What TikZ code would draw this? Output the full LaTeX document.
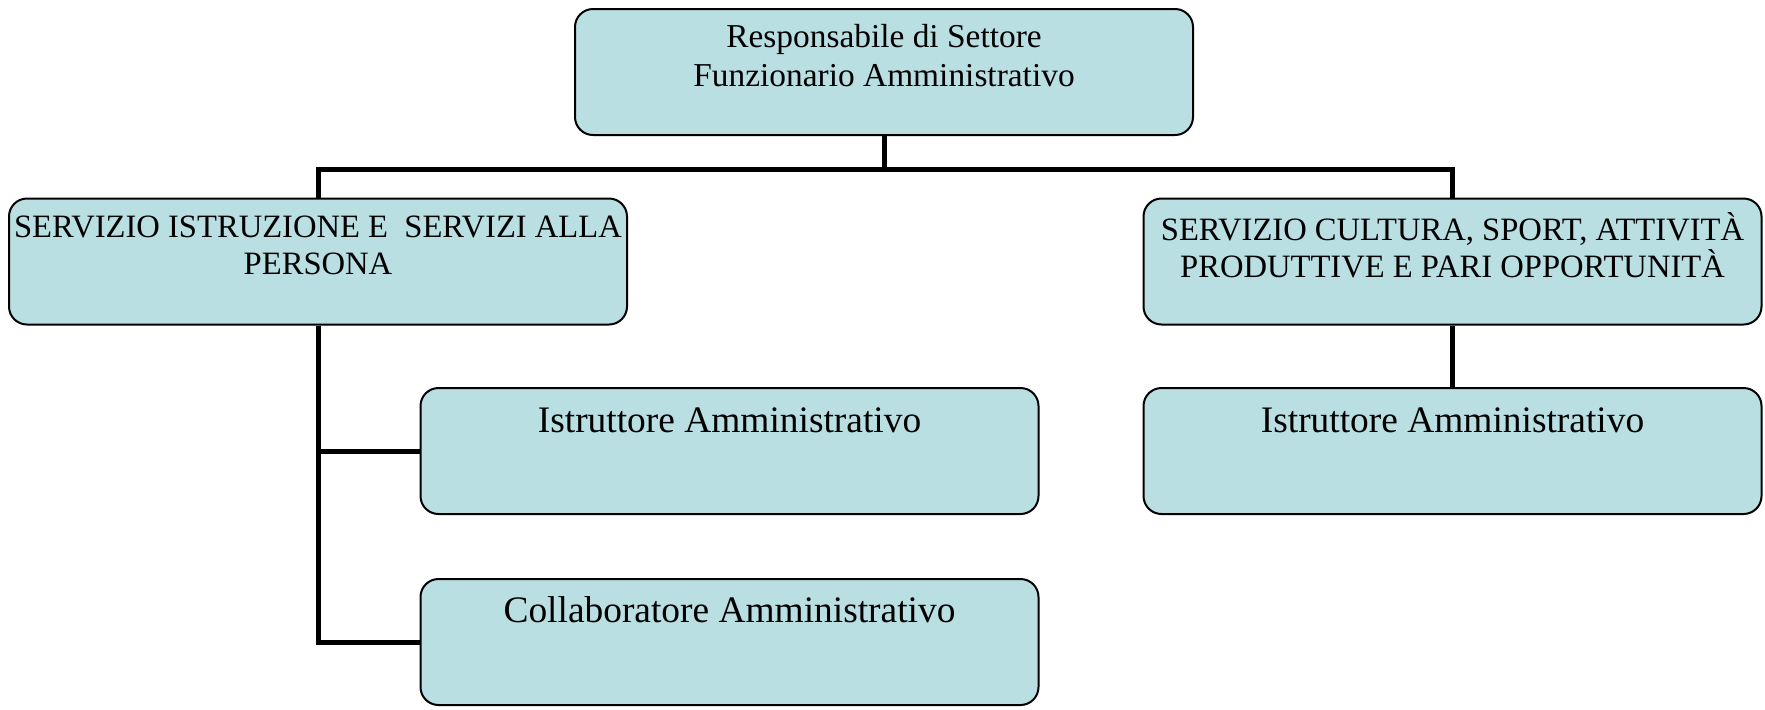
\documentclass[tikz,border=0pt]{standalone}
\usepackage{fontspec}
\setmainfont{Liberation Serif}
\usepackage{xcolor}
\usetikzlibrary{positioning}

\definecolor{boxblue}{HTML}{B9DFE3}

\begin{document}
\begin{tikzpicture}[x=0.5pt, y=-0.5pt,
    unitbox/.style={draw, line width=1pt, fill=boxblue, rounded corners=9pt,
        minimum width=309pt, minimum height=63pt, inner sep=0pt},
    boxtext/.style={align=center, inner sep=0pt},
    link/.style={line width=2.5pt}]
    \useasboundingbox (0,0) rectangle (1765,709);

    % Top: head of the sector
    \node[unitbox] (head) at (884,72) {};
    \node[boxtext, font=\fontsize{16.7}{19.5}\selectfont] (headtxt) at (884,56)
        {Responsabile di Settore\\Funzionario Amministrativo};

    % Services
    \node[unitbox] (istr) at (318,261.5) {};
    \node[boxtext, font=\fontsize{16.3}{18.5}\selectfont] (istrtxt) at (318,245)
        {SERVIZIO ISTRUZIONE E \ SERVIZI ALLA\\PERSONA};
    \node[unitbox] (cult) at (1452.5,261.5) {};
    \node[boxtext, font=\fontsize{16.3}{18.5}\selectfont] (culttxt) at (1452.5,245)
        {SERVIZIO CULTURA, SPORT, ATTIVITÀ\\PRODUTTIVE E PARI OPPORTUNITÀ};

    % Staff
    \node[unitbox] (istrA) at (729.5,451) {};
    \node[boxtext, font=\fontsize{18.7}{22}\selectfont] (istrAtxt) at (729.5,420)
        {Istruttore Amministrativo};
    \node[unitbox] (istrB) at (729.5,642) {};
    \node[boxtext, font=\fontsize{18.7}{22}\selectfont] (istrBtxt) at (729.5,610)
        {Collaboratore Amministrativo};
    \node[unitbox] (cultA) at (1452.5,451) {};
    \node[boxtext, font=\fontsize{18.7}{22}\selectfont] (cultAtxt) at (1452.5,420)
        {Istruttore Amministrativo};

    % Connectors
    \coordinate (bus) at (884,169);
    \draw[link] (head.south) -- (bus);
    \draw[link] (istr.north) |- (bus) -| (cult.north);
    \foreach \n in {istrA, istrB} {
        \draw[link] (istr.south) |- (\n.west);
    }
    \draw[link] (cult.south) -- (cultA.north);
\end{tikzpicture}
\end{document}
